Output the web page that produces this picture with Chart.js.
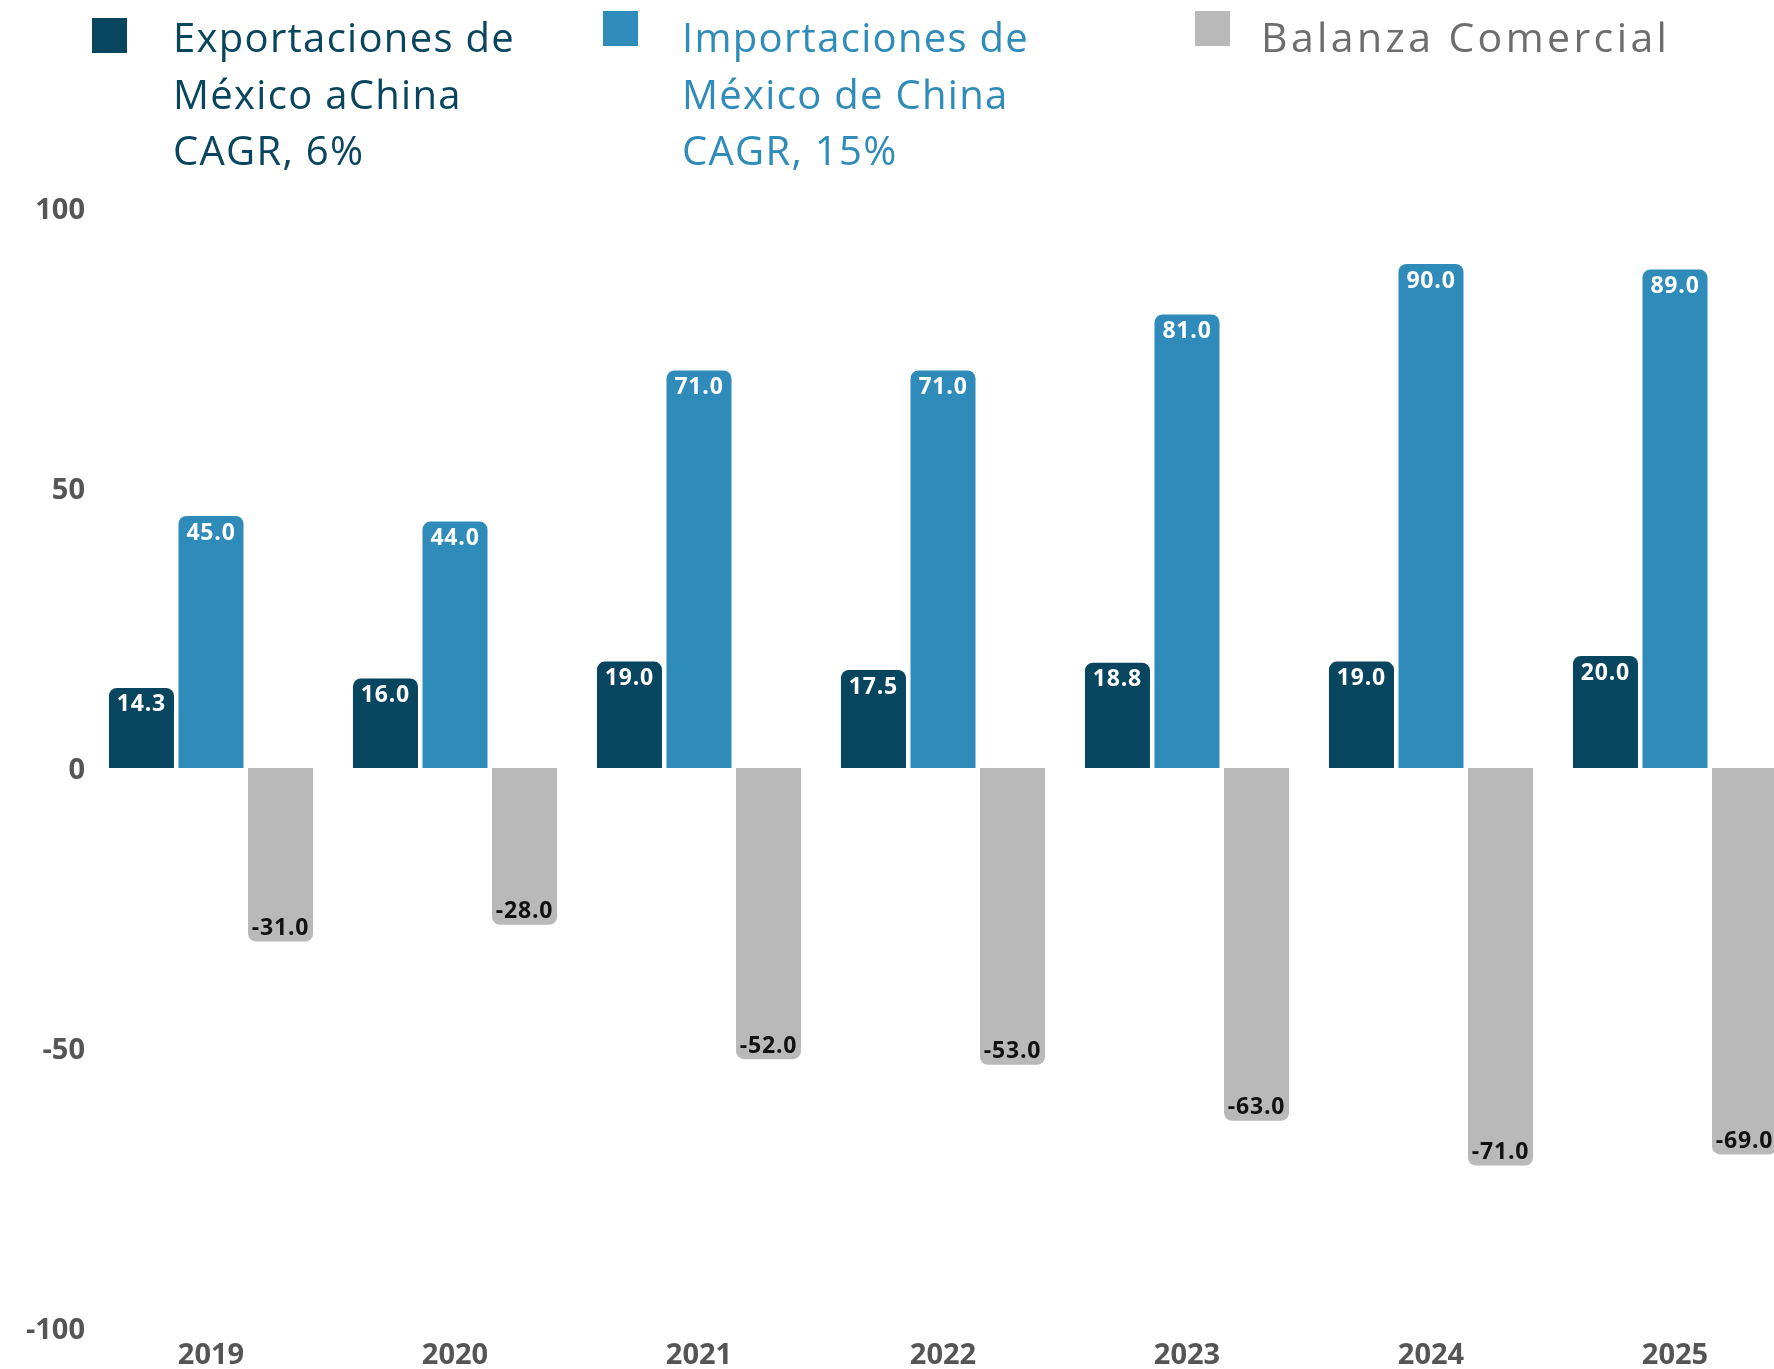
<!DOCTYPE html>
<html>
<head>
<meta charset="utf-8">
<script src="https://cdn.jsdelivr.net/npm/chart.js@4"></script>
<style>
  html, body { margin: 0; padding: 0; background: #fff; overflow: hidden; }
  #wrap { position: relative; width: 1774px; height: 1369px; overflow: hidden; }
  #barchart { position: absolute; left: 0; top: 0; }
  .sq { position: absolute; width: 35px; height: 35px; }
  .lg { position: absolute; font-family: "Open Sans", sans-serif; font-size: 40px; line-height: 56.5px; letter-spacing: 1.3px; white-space: nowrap; }
</style>
</head>
<body>
<div id="wrap">
  <canvas id="barchart" width="1800" height="1369"></canvas>
  <div class="sq" style="left:92px;top:18px;background:#08455e"></div>
  <div class="lg" style="left:173px;top:9px;color:#08455e">Exportaciones de<br>México aChina<br>CAGR, 6%</div>
  <div class="sq" style="left:603px;top:11px;background:#2e8bba"></div>
  <div class="lg" style="left:682px;top:9px;color:#2e8bba">Importaciones de<br>México de China<br>CAGR, 15%</div>
  <div class="sq" style="left:1195px;top:11px;background:#b8b9b8"></div>
  <div class="lg" style="left:1261px;top:8px;color:#6d6d6d;font-size:41px;letter-spacing:3.4px">Balanza Comercial</div>
</div>
<script>
const years = ["2019", "2020", "2021", "2022", "2023", "2024", "2025"];
const exportaciones = [14.3, 16.0, 19.0, 17.5, 18.8, 19.0, 20.0];
const importaciones = [45.0, 44.0, 71.0, 71.0, 81.0, 90.0, 89.0];
const balanza = [-31.0, -28.0, -52.0, -53.0, -63.0, -71.0, -69.0];
const yTicks = [100, 50, 0, -50, -100];

const COLORS = {
  dark: "#08455e",
  blue: "#2e8bba",
  gray: "#b8b9b8",
};

// value labels drawn inside the end of each bar
const barLabels = {
  id: "barLabels",
  afterDatasetsDraw(chart) {
    const ctx = chart.ctx;
    ctx.save();
    ctx.font = "bold 23px 'Open Sans', sans-serif";
    ctx.letterSpacing = "0.8px";
    ctx.textAlign = "center";
    ctx.textBaseline = "middle";
    chart.data.datasets.forEach((ds, i) => {
      const meta = chart.getDatasetMeta(i);
      meta.data.forEach((bar, j) => {
        const v = ds.data[j];
        ctx.fillStyle = ds.labelColor;
        const y = v >= 0 ? bar.y + 17 : bar.y - 13;
        ctx.fillText(v.toFixed(1), bar.x, y);
      });
    });
    ctx.restore();
  },
};

const tickFont = { family: "'Open Sans', sans-serif", size: 29, weight: "bold" };

const config = {
  type: "bar",
  data: {
    labels: years,
    datasets: [
      { label: "Exportaciones", data: exportaciones, backgroundColor: COLORS.dark, labelColor: "#ffffff" },
      { label: "Importaciones", data: importaciones, backgroundColor: COLORS.blue, labelColor: "#ffffff" },
      { label: "Balanza Comercial", data: balanza, backgroundColor: COLORS.gray, labelColor: "#111111" },
    ],
  },
  options: {
    responsive: false,
    animation: false,
    layout: { padding: { top: 208, right: 3, left: 0, bottom: 0 } },
    datasets: {
      bar: {
        categoryPercentage: 0.855,
        barPercentage: 0.935,
        borderRadius: 8,
        borderSkipped: "start",
      },
    },
    plugins: {
      legend: { display: false },
      tooltip: { enabled: false },
    },
    scales: {
      x: {
        grid: { display: false, drawTicks: false },
        border: { display: false },
        ticks: { font: tickFont, color: "#555555", padding: 10 },
        afterFit: (s) => { s.height = 41; },
      },
      y: {
        min: -100,
        max: 100,
        grid: { display: false, drawTicks: false },
        border: { display: false },
        afterBuildTicks: (s) => { s.ticks = yTicks.map((v) => ({ value: v })); },
        ticks: { font: tickFont, color: "#555555", padding: 4, labelOffset: 3 },
        afterFit: (s) => { s.width = 89; },
      },
    },
  },
  plugins: [barLabels],
};

const ctx = document.getElementById("barchart").getContext("2d");
const myChart = new Chart(ctx, config);
</script>
</body>
</html>
